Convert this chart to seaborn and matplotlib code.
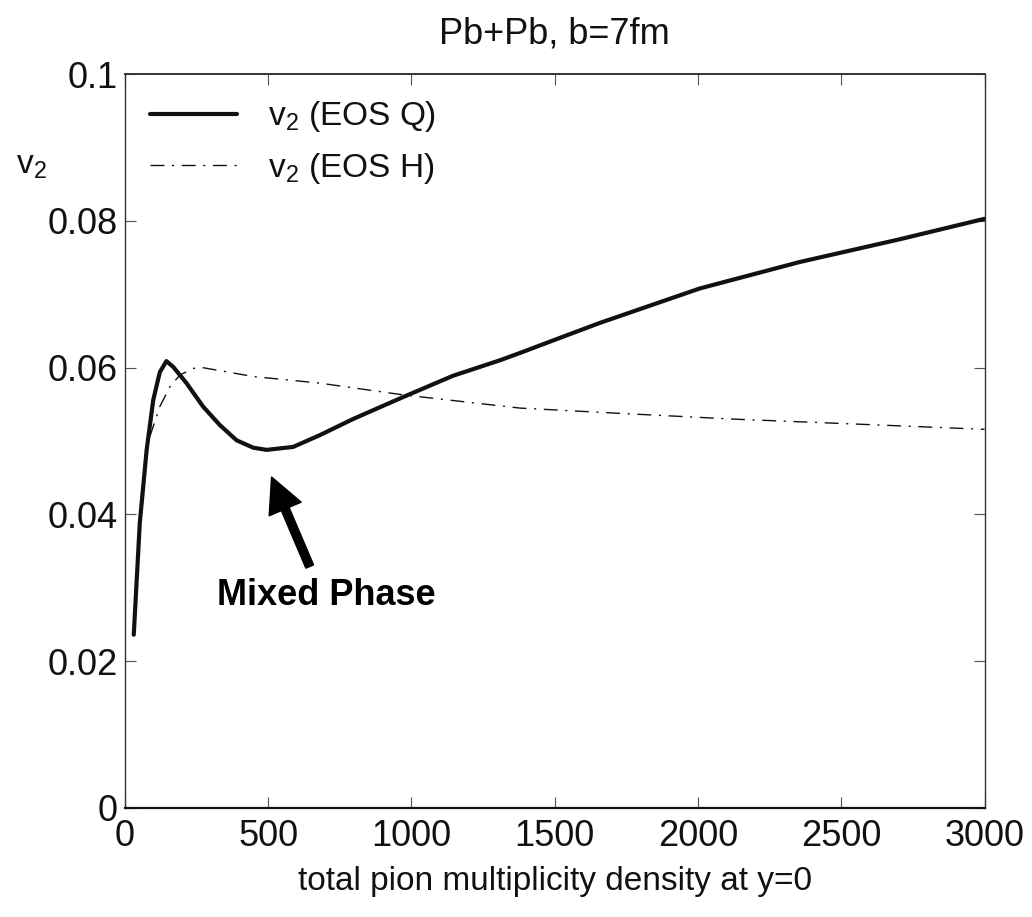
import matplotlib
matplotlib.use("Agg")
import matplotlib.pyplot as plt
import numpy as np
import pandas as pd
import seaborn as sns

# v2 vs multiplicity, EOS Q (with phase transition)
q_mult = [31, 52, 76, 99, 122, 145, 169, 192, 215, 273, 331, 390, 448, 494,
          587, 680, 796, 971, 1145, 1308, 1378, 1500, 1657, 2006, 2354, 2703, 3000]
q_v2 = [0.0236, 0.0388, 0.0488, 0.0556, 0.0594, 0.0609, 0.0601, 0.0590, 0.0579,
        0.0547, 0.0522, 0.0501, 0.0491, 0.0488, 0.0492, 0.0508, 0.0530, 0.0560,
        0.0589, 0.0610, 0.0620, 0.0638, 0.0661, 0.0708, 0.0744, 0.0775, 0.0803]

# EOS H (hadron gas)
h_mult = [87, 122, 157, 192, 238, 273, 448, 680, 971, 1378, 1716, 2121, 2500, 3000]
h_v2 = [0.0506, 0.0547, 0.0574, 0.0590, 0.0599, 0.0600, 0.0588, 0.0579, 0.0563,
        0.0545, 0.0538, 0.0530, 0.0524, 0.0516]

xticks = [0, 500, 1000, 1500, 2000, 2500, 3000]
yticks = [0, 0.02, 0.04, 0.06, 0.08, 0.1]
ytick_labels = ["0", "0.02", "0.04", "0.06", "0.08", "0.1"]

sns.set_style("ticks")
plt.rcParams["font.family"] = ["Liberation Sans", "DejaVu Sans"]
plt.rcParams["mathtext.fontset"] = "custom"
plt.rcParams["mathtext.rm"] = "Liberation Sans"
plt.rcParams["mathtext.default"] = "regular"
plt.rcParams["text.color"] = "#111111"
plt.rcParams["axes.labelcolor"] = "#111111"

fig = plt.figure(figsize=(10.32, 9.17), dpi=100)
ax = fig.add_axes([0.121, 0.119, 0.833, 0.800])

sns.lineplot(x=q_mult, y=q_v2, color="#111111", lw=3.0, estimator=None,
             sort=False, ax=ax, label=r"v$_2$ (EOS Q)")
sns.lineplot(x=h_mult, y=h_v2, color="#111111", lw=1.0, estimator=None,
             sort=False, ax=ax, label=r"v$_2$ (EOS H)")
ax.lines[0].set_solid_joinstyle("round")
ax.lines[1].set_dashes([10, 5.5, 1.5, 5.5])

ax.set_xlim(0, 3000)
ax.set_ylim(0, 0.1)
ax.set_xticks(xticks)
ax.set_xticklabels([str(t) for t in xticks])
ax.set_yticks(yticks)
ax.set_yticklabels(ytick_labels)
ax.tick_params(direction="in", length=8, width=0.8, top=True, right=True,
               labelsize=26, colors="#555555", labelcolor="#111111")
ax.tick_params(axis="x", pad=8)
ax.tick_params(axis="y", pad=5)
for s in ax.spines.values():
    s.set_visible(True)
    s.set_color("#333333")
    s.set_linewidth(1.0)
ax.spines["bottom"].set_color("#111111")
ax.spines["bottom"].set_linewidth(1.6)
ax.spines["top"].set_linewidth(1.4)

ax.set_xlabel("total pion multiplicity density at y=0", fontsize=24, labelpad=9)
ax.set_ylabel("")
ax.text(-0.127, 0.875, r"v$_2$", transform=ax.transAxes, fontsize=24,
        ha="left", va="center")
ax.set_title("Pb+Pb, b=7fm", fontsize=26, pad=22)

ax.legend(loc="upper left", frameon=False, fontsize=24, handlelength=2.6,
          handletextpad=0.95, labelspacing=0.5, borderaxespad=0.25,
          borderpad=0.5)

# arrow pointing at the EOS Q dip, label below it
ax.annotate("", xy=(512, 0.0451), xytext=(645, 0.0329),
            arrowprops=dict(width=6, headwidth=25, headlength=25, shrink=0,
                            color="black"))
ax.text(703, 0.0277, "Mixed Phase", fontsize=26, fontweight="bold",
        color="black", ha="center", va="baseline")

fig.savefig("out.png", dpi=100)
